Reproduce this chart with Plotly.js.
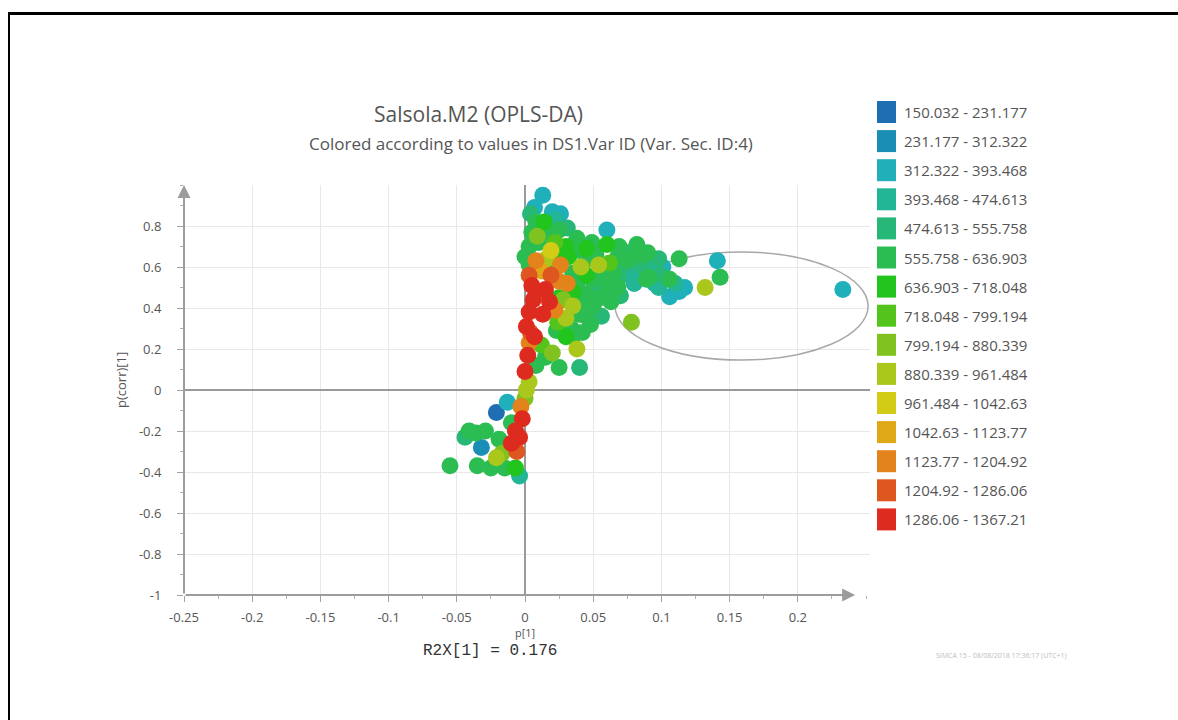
<!DOCTYPE html>
<html>
<head>
<meta charset="utf-8">
<script src="https://cdn.plot.ly/plotly-3.0.1.min.js"></script>
<style>
  html, body { margin: 0; padding: 0; background: #fff; overflow: hidden; }
  body { position: relative; width: 1178px; height: 720px; }
  #chart { position: absolute; left: 0; top: 0; width: 1178px; height: 720px; }
  #frame {
    position: absolute; left: 8px; top: 12px; width: 1170px; height: 708px;
    border-top: 3px solid #000; border-left: 2px solid #000;
    box-sizing: border-box; pointer-events: none;
  }
</style>
</head>
<body>
<div id="chart"></div>
<div id="frame"></div>
<script>
// Loading p[1] and p(corr)[1] of each variable, with its Var ID value
const pLoading = [
  0.013, 0.007, 0.020, 0.026, 0.004, 0.008, 0.014, 0.022, 0.005, 0.015,
  0.025, 0.031, 0.060, 0.038, 0.049, 0.060, 0.069, 0.082, 0.030, 0.022,
  0.040, 0.075, 0.087, 0.003, 0.045, 0.068, 0.079, 0.093, 0.101, 0.113,
  0.096, 0.003, 0.032, 0.062, 0.047, 0.086, 0.052, 0.058, 0.072, 0.035,
  0.045, 0.065, 0.078, 0.100, 0.110, 0.095, 0.117, 0.038, 0.049, 0.060,
  0.069, 0.074, 0.084, 0.091, 0.106, 0.089, 0.113, 0.106, 0.098, 0.080,
  0.045, 0.055, 0.068, 0.035, 0.141, 0.143, 0.233, 0.050, 0.056, 0.025,
  0.042, 0.063, 0.040, 0.048, 0.023, 0.035, 0.015, 0.025, 0.040, 0.030,
  0.012, 0.008, 0.024, -0.021, -0.013, -0.036, -0.041, -0.029, -0.032, -0.019,
  -0.055, -0.035, -0.025, -0.015, -0.007, -0.004, -0.010, -0.044,
  0.055, 0.062, 0.070, 0.034, 0.042, 0.045, 0.020, 0.028, 0.075, 0.090,
  0.098, 0.010, 0.000,
  0.009, 0.019, 0.016, 0.041, 0.054, 0.132, 0.078, 0.035, 0.030, 0.028,
  0.038, 0.020, 0.003, 0.001, -0.021, -0.017, 0.000,
  0.008, 0.026, 0.019, 0.025, 0.031, 0.005, 0.015, 0.008, 0.006, 0.018,
  0.003, 0.013, 0.022, 0.001, 0.004, 0.007, 0.003, 0.002, 0.000, -0.003,
  -0.002, -0.007, -0.004, -0.010, -0.006, 0.003, 0.012
];
const pCorr = [
  0.95, 0.89, 0.87, 0.86, 0.86, 0.82, 0.82, 0.83, 0.77, 0.77,
  0.78, 0.79, 0.78, 0.74, 0.72, 0.71, 0.70, 0.71, 0.70, 0.72,
  0.68, 0.67, 0.66, 0.70, 0.69, 0.65, 0.65, 0.62, 0.60, 0.64,
  0.59, 0.61, 0.65, 0.62, 0.64, 0.60, 0.66, 0.57, 0.61, 0.57,
  0.56, 0.57, 0.59, 0.56, 0.52, 0.52, 0.50, 0.52, 0.54, 0.52,
  0.55, 0.57, 0.58, 0.55, 0.54, 0.54, 0.48, 0.455, 0.50, 0.52,
  0.47, 0.49, 0.50, 0.48, 0.63, 0.55, 0.49, 0.41, 0.36, 0.45,
  0.44, 0.43, 0.37, 0.32, 0.29, 0.26, 0.16, 0.11, 0.11, 0.26,
  0.22, 0.12, 0.33, -0.11, -0.06, -0.21, -0.20, -0.20, -0.28, -0.24,
  -0.37, -0.37, -0.38, -0.38, -0.38, -0.42, -0.16, -0.23,
  0.45, 0.47, 0.46, 0.30, 0.28, 0.36, 0.62, 0.67, 0.63, 0.67,
  0.64, 0.72, 0.65,
  0.75, 0.68, 0.64, 0.60, 0.61, 0.50, 0.33, 0.41, 0.35, 0.44,
  0.20, 0.18, 0.04, 0.00, -0.33, -0.31, -0.04,
  0.63, 0.61, 0.56, 0.53, 0.52, 0.51, 0.49, 0.47, 0.44, 0.43,
  0.38, 0.37, 0.39, 0.31, 0.28, 0.26, 0.23, 0.17, 0.09, -0.08,
  -0.14, -0.20, -0.23, -0.26, -0.30, 0.56, 0.58
];
const varId = [
  362, 348, 371, 330, 505, 588, 671, 433, 602, 579,
  611, 527, 357, 594, 566, 684, 598, 617, 662, 744,
  583, 512, 604, 590, 697, 575, 621, 447, 366, 593,
  342, 608, 688, 761, 573, 531, 601, 585, 498, 614,
  679, 592, 421, 517, 438, 355, 372, 586, 606, 578,
  521, 368, 340, 597, 612, 583, 361, 347, 452, 418,
  589, 507, 603, 690, 359, 594, 364, 586, 509, 676,
  601, 577, 612, 591, 604, 580, 599, 587, 514, 668,
  757, 609, 772, 196, 351, 596, 608, 582, 284, 603,
  589, 611, 597, 584, 683, 441, 593, 522,
  588, 611, 532, 602, 577, 618, 595, 688, 604, 583,
  512, 612, 587,
  846, 1008, 917, 928, 905, 912, 858, 931, 902, 849,
  919, 852, 925, 941, 915, 838, 866,
  1161, 1178, 1236, 1152, 1140, 1318, 1342, 1259, 1305, 1331,
  1347, 1322, 1169, 1296, 1227, 1334, 1155, 1311, 1329, 1183,
  1302, 1340, 1315, 1326, 1248, 1208, 1064
];

// Var ID class limits and colours
const binEdges = [150.032, 231.177, 312.322, 393.468, 474.613, 555.758, 636.903, 718.048,
                  799.194, 880.339, 961.484, 1042.63, 1123.77, 1204.92, 1286.06, 1367.21];
const binColors = ['#1f6db3', '#1b8eb6', '#1fb0ba', '#22b596', '#27b878', '#2bbd52', '#22c41e', '#52c41c',
                   '#80c21f', '#aac71c', '#d3cc16', '#dfa816', '#e3831b', '#de5720', '#de2b1f'];
const binLabels = binEdges.slice(0, -1).map((e, i) => e + ' - ' + binEdges[i + 1]);

// Axis ticks
const xTicks = [-0.25, -0.2, -0.15, -0.1, -0.05, 0, 0.05, 0.1, 0.15, 0.2];
const xTickLabels = ['-0.25', '-0.2', '-0.15', '-0.1', '-0.05', '0', '0.05', '0.1', '0.15', '0.2'];
const yTicks = [-1, -0.8, -0.6, -0.4, -0.2, 0, 0.2, 0.4, 0.6, 0.8];
const yTickLabels = ['-1', '-0.8', '-0.6', '-0.4', '-0.2', '0', '0.2', '0.4', '0.6', '0.8'];

const W = 1178, H = 720;
const M = { l: 184, r: 308, t: 185, b: 125 };
const pw = W - M.l - M.r, ph = H - M.t - M.b;
const toPaperX = px => (px - M.l) / pw;
const toPaperY = py => (H - M.b - py) / ph;

const textGrey = '#555555';
const font = '"Open Sans", "Noto Sans", sans-serif';

// one trace per Var ID class
function binOf(v) {
  for (let i = 0; i < binEdges.length - 1; i++) {
    if (v >= binEdges[i] && v <= binEdges[i + 1]) return i;
  }
  return v < binEdges[0] ? 0 : binEdges.length - 2;
}
const traces = binColors.map((c, i) => ({
  type: 'scatter', mode: 'markers', name: binLabels[i], showlegend: false,
  x: [], y: [], hoverinfo: 'x+y',
  marker: { color: c, size: 17, line: { width: 0 } }
}));
pLoading.forEach((x, k) => {
  const b = binOf(varId[k]);
  traces[b].x.push(x);
  traces[b].y.push(pCorr[k]);
});

const shapes = [
  // highlighted group of variables
  { type: 'circle', xref: 'x', yref: 'y', x0: 0.066, x1: 0.2515, y0: 0.146, y1: 0.673,
    line: { color: '#a8a8a8', width: 1.5 }, layer: 'between' }
];
const annotations = [
  { text: 'Salsola.M2 (OPLS-DA)', xref: 'paper', yref: 'paper', x: toPaperX(478), y: toPaperY(114),
    xanchor: 'center', yanchor: 'middle', showarrow: false, font: { family: font, size: 21, color: textGrey } },
  { text: 'Colored according to values in DS1.Var ID (Var. Sec. ID:4)', xref: 'paper', yref: 'paper',
    x: toPaperX(531), y: toPaperY(144), xanchor: 'center', yanchor: 'middle', showarrow: false,
    font: { family: font, size: 17, color: textGrey } },
  { text: 'p(corr)[1]', xref: 'paper', yref: 'paper', x: toPaperX(121), y: toPaperY(380), textangle: -90,
    xanchor: 'center', yanchor: 'middle', showarrow: false, font: { family: font, size: 13, color: textGrey } },
  { text: 'p[1]', xref: 'paper', yref: 'paper', x: toPaperX(525), y: toPaperY(632),
    xanchor: 'center', yanchor: 'middle', showarrow: false, font: { family: font, size: 11, color: textGrey } },
  { text: 'R2X[1] = 0.176', xref: 'paper', yref: 'paper', x: toPaperX(421), y: toPaperY(651),
    xanchor: 'left', yanchor: 'middle', showarrow: false,
    font: { family: '"Liberation Mono", "DejaVu Sans Mono", monospace', size: 16, color: '#333' } },
  { text: 'SIMCA 15 - 08/08/2018 17:36:17 (UTC+1)', xref: 'paper', yref: 'paper', x: toPaperX(1001), y: toPaperY(655),
    xanchor: 'center', yanchor: 'middle', showarrow: false, font: { family: font, size: 7, color: '#bdbdbd' } },
  // axis lines with arrow heads
  { text: '', xref: 'x', yref: 'y', axref: 'x', ayref: 'y', x: 0.242, y: -1, ax: -0.25, ay: -1,
    showarrow: true, arrowhead: 2, arrowsize: 1.3, arrowwidth: 2, arrowcolor: '#9c9c9c' },
  { text: '', xref: 'x', yref: 'y', axref: 'x', ayref: 'y', x: -0.25, y: 1.0, ax: -0.25, ay: -1,
    showarrow: true, arrowhead: 2, arrowsize: 1.3, arrowwidth: 2, arrowcolor: '#9c9c9c' }
];

// colour key
const keyTop = 112, keyStep = 29.1;
binLabels.forEach((lab, i) => {
  const cy = keyTop + i * keyStep;
  shapes.push({ type: 'rect', xref: 'paper', yref: 'paper',
    x0: toPaperX(877), x1: toPaperX(896), y0: toPaperY(cy - 11), y1: toPaperY(cy + 11),
    fillcolor: binColors[i], line: { width: 0 } });
  annotations.push({ text: lab, xref: 'paper', yref: 'paper', x: toPaperX(902), y: toPaperY(cy),
    xanchor: 'left', yanchor: 'middle', showarrow: false, font: { family: font, size: 15, color: textGrey } });
});

const axisCommon = {
  tickmode: 'array', showgrid: true, gridcolor: '#e8e8e8', gridwidth: 1,
  zeroline: true, zerolinecolor: '#9a9a9a', zerolinewidth: 1.5, showline: false,
  ticks: 'outside', ticklen: 6, tickwidth: 1, tickcolor: '#a0a0a0',
  tickfont: { family: font, size: 13, color: textGrey }, fixedrange: true
};

const layout = {
  width: W, height: H, margin: M, paper_bgcolor: '#fff', plot_bgcolor: '#fff',
  showlegend: false, font: { family: font, color: textGrey },
  xaxis: Object.assign({}, axisCommon, {
    range: [-0.25, 0.2529], tickvals: xTicks, ticktext: xTickLabels, ticklabelstandoff: 4,
    minor: { dtick: 0.025, tick0: 0, ticklen: 3, tickcolor: '#b0b0b0', showgrid: false }
  }),
  yaxis: Object.assign({}, axisCommon, {
    range: [-1, 1], tickvals: yTicks, ticktext: yTickLabels, ticklabelstandoff: 13,
    minor: { dtick: 0.1, tick0: 0, ticklen: 3, tickcolor: '#b0b0b0', showgrid: false }
  }),
  shapes: shapes, annotations: annotations
};

Plotly.newPlot('chart', traces, layout, { staticPlot: true, displayModeBar: false });
</script>
</body>
</html>
